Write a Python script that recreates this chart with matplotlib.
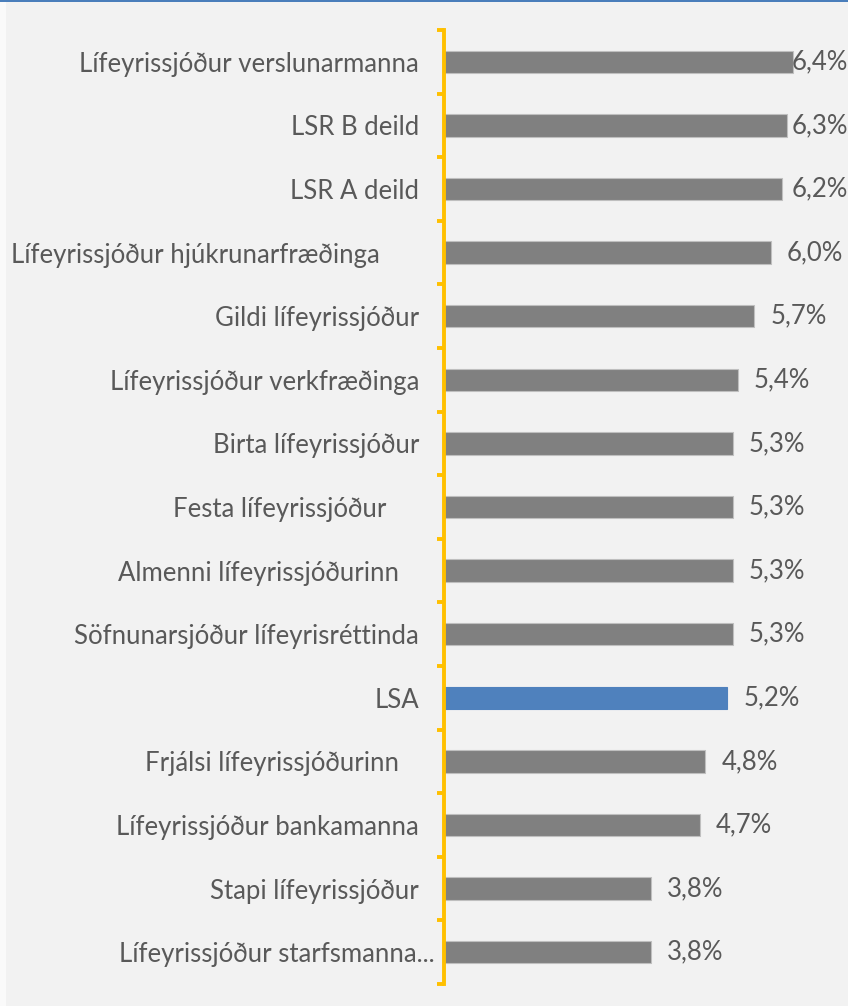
import matplotlib
matplotlib.use("Agg")
import matplotlib.pyplot as plt
from matplotlib.patches import Rectangle
from matplotlib.transforms import ScaledTranslation

categories = [
    "Lífeyrissjóður verslunarmanna",
    "LSR B deild",
    "LSR A deild",
    "Lífeyrissjóður hjúkrunarfræðinga      ",
    "Gildi lífeyrissjóður",
    "Lífeyrissjóður verkfræðinga",
    "Birta lífeyrissjóður",
    "Festa lífeyrissjóður     ",
    "Almenni lífeyrissjóðurinn   ",
    "Söfnunarsjóður lífeyrisréttinda",
    "LSA",
    "Frjálsi lífeyrissjóðurinn   ",
    "Lífeyrissjóður bankamanna",
    "Stapi lífeyrissjóður",
    "Lífeyrissjóður starfsmanna...",
]
values = [6.4, 6.3, 6.2, 6.0, 5.7, 5.4, 5.3, 5.3, 5.3, 5.3, 5.2, 4.8, 4.7, 3.8, 3.8]
highlight = "LSA"

W, H = 848, 1006
fig = plt.figure(figsize=(W / 100, H / 100), dpi=100)
fig.patch.set_facecolor("#fafafa")
bg = fig.add_axes([0, 0, 1, 1], zorder=-10)
bg.set_axis_off()
bg.set_xlim(0, 1)
bg.set_ylim(0, 1)
bg.add_patch(Rectangle((6 / W, 0), 1 - 6 / W, 1 - 2 / H, facecolor="#f2f2f2", edgecolor="none"))
bg.add_patch(Rectangle((0, 1 - 2 / H), 1, 2 / H, facecolor="#4a7ebb", edgecolor="none"))

ax_left = 444 / W
ax_right = 847 / W
ax_bottom = 22 / H
ax_top = 30 / H
ax = fig.add_axes([ax_left, ax_bottom, ax_right - ax_left, 1 - ax_top - ax_bottom])
ax.set_facecolor("none")

n = len(categories)
ypos = list(range(n))
colors = ["#4f81bd" if c.strip() == highlight else "#808080" for c in categories]
edges = ["#4f81bd" if c.strip() == highlight else "#bfbfbf" for c in categories]
ax.barh(ypos, values, height=0.35, color=colors, edgecolor=edges, linewidth=0.8, zorder=2)

xmax = 7.4
ax.set_xlim(0, xmax)
ax.set_ylim(n - 0.5, -0.5)

font = ["Lato", "DejaVu Sans"]
txtcol = "#595959"
fs = 18.5

px_per_unit = (ax_right - ax_left) * W / xmax
gap = 16 / px_per_unit
clamp = (792 - 444) / px_per_unit
for y, v in zip(ypos, values):
    x = min(v + gap, clamp)
    ax.text(x, y, f"{v:.1f}%".replace(".", ","), ha="left", va="center",
            fontsize=fs, color=txtcol, family=font, clip_on=False)

ax.set_yticks(ypos)
ax.set_yticklabels(categories, fontsize=fs, color=txtcol, family=font)
ax.tick_params(axis="y", which="major", length=0, pad=18)
ax.set_yticks([i - 0.5 for i in range(n + 1)], minor=True)
ax.tick_params(axis="y", which="minor", length=5, width=2.8, color="#ffc000", direction="out")
ax.set_xticks([])

# truncated last label sits closer to the axis (as in the source chart)
for lbl in ax.get_yticklabels():
    if lbl.get_text().endswith("..."):
        lbl.set_transform(lbl.get_transform() + ScaledTranslation(16 / 100, 0, fig.dpi_scale_trans))

for s in ["top", "right", "bottom"]:
    ax.spines[s].set_visible(False)
ax.spines["left"].set_color("#ffc000")
ax.spines["left"].set_linewidth(2.8)

fig.savefig("out.png", dpi=100, facecolor=fig.get_facecolor())
